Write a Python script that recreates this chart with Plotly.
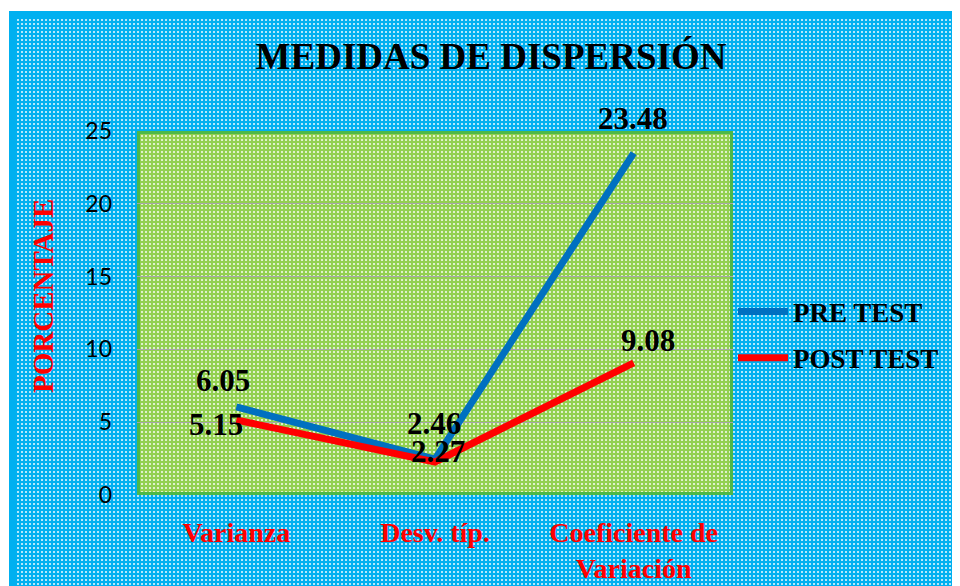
import base64
import plotly.graph_objects as go

categorias = ["Varianza", "Desv. típ.", "Coeficiente de<br>Variación"]
pre_test = [6.05, 2.46, 23.48]
post_test = [5.15, 2.27, 9.08]
y_ticks = [0, 5, 10, 15, 20, 25]

SERIF = "Liberation Serif, Times New Roman, serif"

# la pagina html deja 8px de margen: se descuentan de todas las posiciones
OFF = 8
L, T = 137 - OFF, 131 - OFF
PW, PH = 596, 364
R, B = 960 - L - PW, 586 - T - PH


def patron(w, h, color, borde=None, grosor=0, lados="all"):
    # fondo tramado (cuadricula de color y blanco) como imagen svg
    svg = (f'<svg xmlns="http://www.w3.org/2000/svg" width="{w}" height="{h}">'
           f'<defs><pattern id="p" width="4" height="4" patternUnits="userSpaceOnUse">'
           f'<rect width="4" height="4" fill="{color}"/>'
           f'<rect x="0" y="0" width="2" height="2" fill="#ffffff" fill-opacity="0.7"/>'
           f'</pattern></defs><rect width="{w}" height="{h}" fill="url(#p)"/>')
    if borde and lados == "all":
        svg += (f'<rect x="{grosor/2}" y="{grosor/2}" width="{w-grosor}" height="{h-grosor}" '
                f'fill="none" stroke="{borde}" stroke-width="{grosor}"/>')
    elif borde:
        svg += f'<rect x="0" y="0" width="{w}" height="{grosor}" fill="{borde}"/>'
        svg += f'<rect x="0" y="0" width="{grosor}" height="{h}" fill="{borde}"/>'
    svg += '</svg>'
    return "data:image/svg+xml;base64," + base64.b64encode(svg.encode()).decode()


fig = go.Figure()
fig.add_trace(go.Scatter(x=categorias, y=pre_test, name="PRE TEST", mode="lines", legendgroup="pre",
                         line=dict(color="#0070C0", width=7)))
fig.add_trace(go.Scatter(x=categorias, y=post_test, name="POST TEST", mode="lines", legendgroup="post",
                         line=dict(color="#FF0000", width=7)))

# etiquetas de datos
desp_pre = [(-13, 26), (-1, 36), (-1, 35)]
desp_post = [(-20, -4), (3, 10), (14, 22)]
for serie, desp in ((pre_test, desp_pre), (post_test, desp_post)):
    for c, v, (dx, dy) in zip(categorias, serie, desp):
        fig.add_annotation(x=c, y=v, text=f"<b>{v:.2f}</b>", showarrow=False,
                           xanchor="center", yanchor="middle",
                           xshift=dx, yshift=dy, font=dict(family=SERIF, size=31, color="black"))

fig.add_annotation(xref="paper", yref="paper", x=(43 - 137) / PW, y=(495 - 296) / PH,
                   xanchor="center", yanchor="middle",
                   text="<b>PORCENTAJE</b>", textangle=-90, showarrow=False,
                   font=dict(family=SERIF, size=29, color="#FF0000"))

# marco exterior (pixeles de la pagina)
ox, oy = 9 - OFF, 11 - OFF
fw, fh = 975 - ox, 600 - oy
fig.update_layout(
    width=960, height=586,
    margin=dict(l=L, r=R, t=T, b=B, autoexpand=False),
    paper_bgcolor="white", plot_bgcolor="rgba(0,0,0,0)",
    title=dict(text="<b>MEDIDAS DE DISPERSIÓN</b>", x=(491 - OFF) / 960, xanchor="center",
               y=1 - (56 - OFF) / 586, yanchor="middle",
               font=dict(family=SERIF, size=37, color="black")),
    images=[
        dict(source=patron(fw, fh, "#00B0F0", "#00B0F0", 6, lados="tl"),
             xref="paper", yref="paper", x=(ox - L) / PW, y=(T + PH - oy) / PH,
             sizex=fw / PW, sizey=fh / PH, sizing="stretch",
             xanchor="left", yanchor="top", layer="below"),
        dict(source=patron(PW, PH, "#92D050", "#4DB848", 3),
             xref="paper", yref="paper", x=0, y=1, sizex=1, sizey=1, sizing="stretch",
             xanchor="left", yanchor="top", layer="below"),
    ],
    legend=dict(x=1.0, y=(495 - 335) / PH, xanchor="left", yanchor="middle",
                bgcolor="rgba(0,0,0,0)", font=dict(family=SERIF, size=27, color="black", weight="bold"),
                itemwidth=50, traceorder="grouped", tracegroupgap=8),
    showlegend=True,
)
fig.update_xaxes(range=[-0.5, 2.5], showgrid=False, zeroline=False, showline=False,
                 ticks="", ticklabelstandoff=18, automargin=False,
                 tickfont=dict(family=SERIF, size=28, color="#FF0000", weight="bold"))
fig.update_yaxes(range=[0, 25], tickvals=y_ticks, showgrid=True, gridcolor="#A6A6A6",
                 gridwidth=1, zeroline=False, showline=False, ticks="", ticklabelstandoff=24,
                 automargin=False,
                 tickfont=dict(family="Lato, Open Sans, sans-serif", size=23, color="black"))

fig.write_html("out.html")
